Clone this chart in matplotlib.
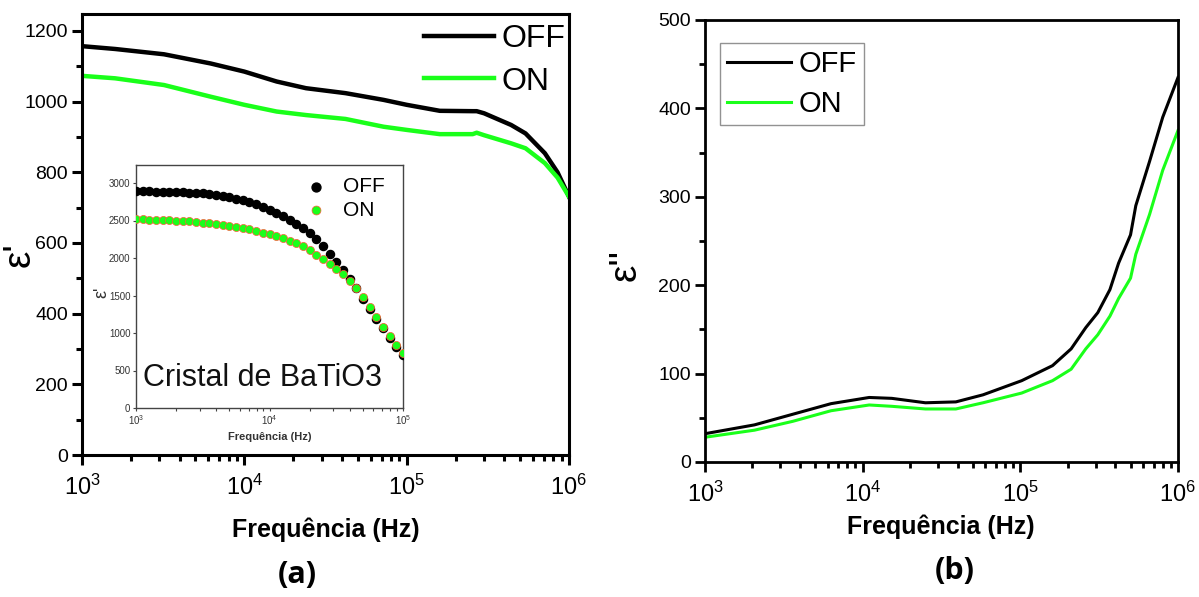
import matplotlib
matplotlib.use("Agg")
import matplotlib.pyplot as plt
from matplotlib.ticker import MultipleLocator, LogLocator, NullFormatter
import numpy as np

# ---- data ---------------------------------------------------------------
# (a) real permittivity of the composite
freq_a = [1e3, 1.6e3, 3.2e3, 6.2e3, 1e4, 1.58e4, 2.4e4, 4.2e4, 7.2e4, 1e5,
          1.6e5, 2.55e5, 2.7e5, 3e5, 4.4e5, 5.4e5, 7.1e5, 8.5e5, 1e6]
eps_r_off = [1157, 1149, 1134, 1108, 1085, 1057, 1038, 1024, 1005, 991,
             974, 973, 973, 967, 934, 910, 854, 800, 731]
eps_r_on = [1073, 1066, 1047, 1014, 991, 972, 962, 951, 929, 920,
            908, 908, 912, 905, 882, 868, 826, 785, 731]

# (b) imaginary permittivity
freq_b = [1e3, 2.06e3, 3.6e3, 6.3e3, 1.1e4, 1.53e4, 2.5e4, 3.9e4, 5.8e4,
          1.02e5, 1.6e5, 2.1e5, 2.6e5, 3.1e5, 3.7e5, 4.2e5, 5e5, 5.4e5,
          6.6e5, 8e5, 1e6]
eps_i_off = [32, 42, 54, 66, 73, 72, 67, 68, 76, 92, 109, 128, 152, 169,
             195, 225, 257, 290, 340, 390, 435]
eps_i_on = [28, 36, 46, 58, 64.5, 63, 60, 60, 67, 78, 92, 105, 128, 144,
            165, 185, 208, 235, 280, 330, 375]

# inset: BaTiO3 crystal, sweep of 41 points (1 kHz - 100 kHz)
freq_c = [1000, 1122, 1259, 1413, 1585, 1778, 1995, 2239, 2512, 2818,
          3162, 3548, 3981, 4467, 5012, 5623, 6310, 7079, 7943, 8913,
          10000, 11220, 12589, 14125, 15849, 17783, 19953, 22387, 25119,
          28184, 31623, 35481, 39811, 44668, 50119, 56234, 63096, 70795,
          79433, 89125, 100000]
eps_c_off = [2890, 2889, 2887, 2885, 2883, 2880, 2877, 2875, 2872, 2868,
             2863, 2853, 2842, 2828, 2811, 2792, 2770, 2744, 2714, 2680,
             2640, 2598, 2557, 2505, 2455, 2398, 2330, 2250, 2165, 2060,
             1950, 1840, 1720, 1595, 1460, 1325, 1190, 1065, 940, 820, 710]
eps_c_on = [2515, 2514, 2512, 2510, 2507, 2503, 2498, 2493, 2487, 2480,
            2472, 2463, 2453, 2442, 2430, 2416, 2400, 2382, 2362, 2340,
            2316, 2290, 2262, 2230, 2195, 2157, 2112, 2040, 1985, 1925,
            1860, 1785, 1700, 1605, 1480, 1345, 1210, 1085, 962, 845, 740]

GREEN = "#1aff1a"

plt.rcParams["font.family"] = ["Liberation Sans", "DejaVu Sans"]
plt.rcParams["mathtext.fontset"] = "custom"
plt.rcParams["mathtext.rm"] = "Liberation Sans"
plt.rcParams["mathtext.it"] = "Liberation Sans"

W, H = 1199, 597
fig = plt.figure(figsize=(W / 100, H / 100), dpi=100)


def box(x0, y0, x1, y1):
    """Axes rectangle from pixel corners (top-left origin)."""
    return [x0 / W, 1 - y1 / H, (x1 - x0) / W, (y1 - y0) / H]


def style_axes(ax, major, minor, lw=2.2, size=14, xsize=17):
    for s in ax.spines.values():
        s.set_linewidth(lw)
    ax.set_xscale("log")
    ax.xaxis.set_major_locator(LogLocator(base=10, numticks=10))
    ax.xaxis.set_minor_locator(LogLocator(base=10, subs=np.arange(2, 10), numticks=10))
    ax.xaxis.set_minor_formatter(NullFormatter())
    ax.yaxis.set_major_locator(MultipleLocator(major))
    ax.yaxis.set_minor_locator(MultipleLocator(minor))
    ax.tick_params(which="major", direction="out", length=7, width=lw, top=False, right=False)
    ax.tick_params(which="minor", direction="out", length=4, width=lw, top=False, right=False)
    ax.tick_params(axis="y", labelsize=size, pad=3)
    ax.tick_params(axis="x", labelsize=xsize, pad=7)


# ---- panel (a) ----------------------------------------------------------
ax1 = fig.add_axes(box(82, 14, 569, 455))
ax1.plot(freq_a, eps_r_off, color="black", lw=3.2, label="OFF")
ax1.plot(freq_a, eps_r_on, color=GREEN, lw=3.2, label="ON")
ax1.set_xlim(1e3, 1e6)
ax1.set_ylim(0, 1248)
style_axes(ax1, 200, 100)
ax1.legend(loc="upper right", frameon=False, fontsize=23, handlelength=2.2,
           handletextpad=0.25, labelspacing=0.4, borderaxespad=0.0,
           borderpad=0.1, bbox_to_anchor=(1.0, 0.985))

# inset
ax3 = fig.add_axes(box(136, 165, 403, 408))
ax3.scatter(freq_c, eps_c_off, s=34, color="black", zorder=3, label="OFF")
ax3.scatter(freq_c, eps_c_on, s=34, color=GREEN, edgecolor="#ff5a3c",
            linewidth=0.5, zorder=4, label="ON")
ax3.set_xlim(1e3, 1e5)
ax3.set_ylim(0, 3240)
for s in ax3.spines.values():
    s.set_linewidth(1.0)
    s.set_color("#444444")
ax3.set_xscale("log")
ax3.xaxis.set_minor_formatter(NullFormatter())
ax3.yaxis.set_major_locator(MultipleLocator(500))
ax3.tick_params(which="both", direction="out", length=2.5, width=0.8,
                labelsize=7, pad=1.5, colors="#444444", labelcolor="#333333")
ax3.text(0.025, 0.09, "Cristal de BaTiO3", transform=ax3.transAxes,
         fontsize=22, color="#111111")
ax3.legend(loc="upper right", frameon=False, fontsize=15, handletextpad=0.3,
           labelspacing=0.2, borderaxespad=0.2, scatterpoints=1,
           markerscale=1.1, bbox_to_anchor=(0.98, 1.0))
fig.text(270 / W, 1 - 437 / H, "Frequência (Hz)", ha="center",
         va="center", fontsize=8, fontweight="bold", color="#333333")
fig.text(102 / W, 1 - 292 / H, "ε'", ha="center", va="center",
         rotation=90, fontsize=13, color="#333333")

# ---- panel (b) ----------------------------------------------------------
ax2 = fig.add_axes(box(705, 20, 1178, 462))
ax2.plot(freq_b, eps_i_off, color="black", lw=2.2, label="OFF")
ax2.plot(freq_b, eps_i_on, color=GREEN, lw=2.2, label="ON")
ax2.set_xlim(1e3, 1e6)
ax2.set_ylim(0, 500)
style_axes(ax2, 100, 50, lw=2.0)
leg2 = ax2.legend(loc="upper left", frameon=True, fancybox=False, fontsize=21,
                  handlelength=2.2, handletextpad=0.25, labelspacing=0.4,
                  borderaxespad=0.0, borderpad=0.25,
                  bbox_to_anchor=((720 - 705) / 473, 1 - (43 - 20) / 442))
leg2.get_frame().set_edgecolor("#777777")
leg2.get_frame().set_linewidth(1.0)

# ---- labels ---------------------------------------------------------------
fig.text(326 / W, 1 - 530 / H, "Frequência (Hz)", ha="center", va="center",
         fontsize=18, fontweight="bold")
fig.text(941 / W, 1 - 527 / H, "Frequência (Hz)", ha="center", va="center",
         fontsize=18, fontweight="bold")
fig.text(20 / W, 1 - 255 / H, "ε'", ha="center", va="center", rotation=90,
         fontsize=28)
fig.text(626 / W, 1 - 265 / H, "ε''", ha="center", va="center", rotation=90,
         fontsize=28)
fig.text(297 / W, 1 - 575 / H, "(a)", ha="center", va="center",
         fontsize=22, fontweight="bold", family=["Open Sans", "DejaVu Sans"])
fig.text(955 / W, 1 - 571 / H, "(b)", ha="center", va="center",
         fontsize=22, fontweight="bold", family=["Open Sans", "DejaVu Sans"])

fig.savefig("out.png", dpi=100)
